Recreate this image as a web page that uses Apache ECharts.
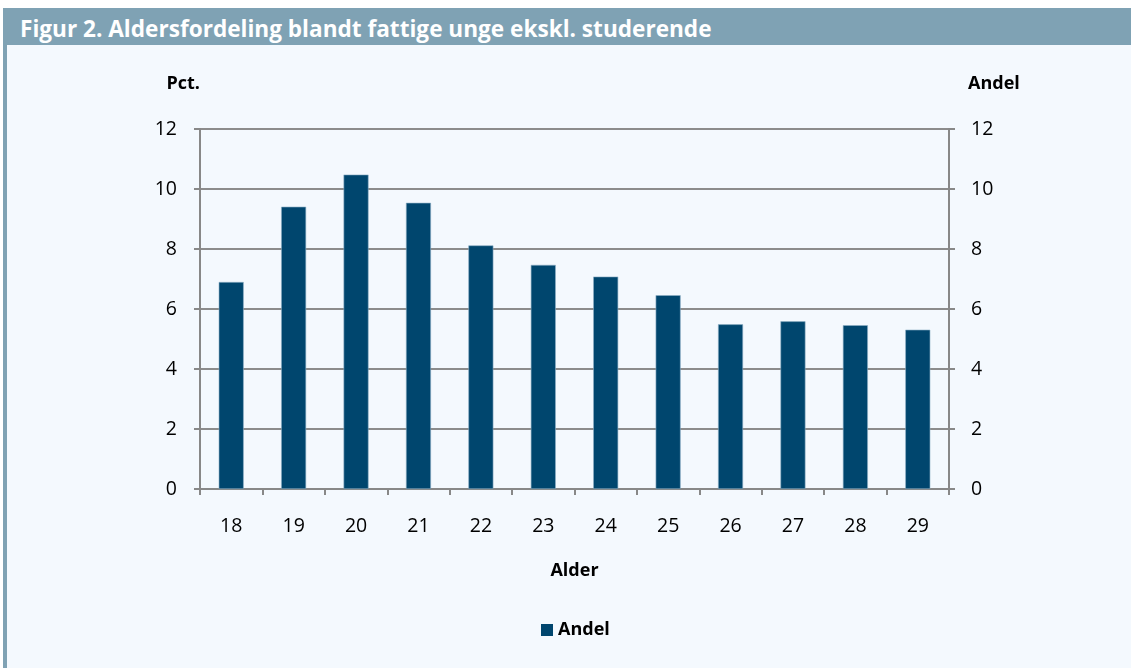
<!DOCTYPE html>
<html>
<head>
<meta charset="utf-8">
<script src="https://cdn.jsdelivr.net/npm/echarts@6/dist/echarts.min.js"></script>
<style>
html, body { margin: 0; padding: 0; background: #ffffff; }
#frame {
    position: absolute; left: 3px; top: 8px; width: 1128px; height: 660px;
    background: #f4f9fe;
}
#titlebar {
    height: 37px; background: #7fa2b4; color: #ffffff;
    font-family: "Open Sans", "Noto Sans", sans-serif; font-weight: bold;
    font-size: 22.6px; line-height: 41px; padding-left: 17px; white-space: nowrap;
}
#leftstrip {
    position: absolute; left: 0; top: 37px; width: 4px; bottom: 0; background: #7fa2b4;
}
#chart { position: absolute; left: 0; top: 0; width: 1131px; height: 668px; }
</style>
</head>
<body>
<div id="frame">
    <div id="titlebar">Figur 2. Aldersfordeling blandt fattige unge ekskl. studerende</div>
    <div id="leftstrip"></div>
</div>
<div id="chart"></div>
<script>
// alder og andel (pct.)
var categories = ['18', '19', '20', '21', '22', '23', '24', '25', '26', '27', '28', '29'];
var andel = [6.9, 9.41, 10.48, 9.54, 8.12, 7.47, 7.08, 6.46, 5.49, 5.59, 5.46, 5.31];
var seriesName = 'Andel';

var font = '"Open Sans", "Noto Sans", sans-serif';
var axisGray = '#888888';
var barColor = '#00466e';

var myChart = echarts.init(document.getElementById('chart'));
myChart.setOption({
    backgroundColor: 'transparent',
    textStyle: { fontFamily: font },
    animation: false,
    grid: { left: 200, right: 182, top: 129, bottom: 179 },
    legend: {
        data: [seriesName],
        left: 536, top: 616,
        icon: 'rect', itemWidth: 12, itemHeight: 12, itemGap: 5,
        itemStyle: { borderWidth: 0 },
        textStyle: { fontFamily: font, fontSize: 18, fontWeight: 'bold', color: '#000' }
    },
    xAxis: {
        type: 'category',
        data: categories,
        name: 'Alder',
        nameLocation: 'middle',
        nameGap: 73,
        nameTextStyle: { fontFamily: font, fontSize: 18, fontWeight: 'bold', color: '#000', verticalAlign: 'top' },
        axisLine: { lineStyle: { color: axisGray, width: 2 } },
        axisTick: { show: true, length: 6, lineStyle: { color: axisGray, width: 2 } },
        axisLabel: { fontFamily: font, fontSize: 19.5, color: '#000', margin: 27 }
    },
    yAxis: [{
        type: 'value', min: 0, max: 12, interval: 2,
        position: 'left',
        name: 'Pct.',
        nameGap: 46,
        nameTextStyle: { fontFamily: font, fontSize: 18, fontWeight: 'bold', color: '#000', align: 'right', verticalAlign: 'bottom', padding: [0, 0, -10, 0] },
        axisLine: { show: true, lineStyle: { color: axisGray, width: 2 } },
        axisTick: { show: true, length: 6, lineStyle: { color: axisGray, width: 2 } },
        axisLabel: { fontFamily: font, fontSize: 19.5, color: '#000', margin: 23 },
        splitLine: { show: true, lineStyle: { color: '#8c8c8c', width: 2 } }
    }, {
        type: 'value', min: 0, max: 12, interval: 2,
        position: 'right',
        name: 'Andel',
        nameGap: 46,
        nameTextStyle: { fontFamily: font, fontSize: 18, fontWeight: 'bold', color: '#000', align: 'left', verticalAlign: 'bottom', padding: [0, 0, -10, 19] },
        axisLine: { show: true, lineStyle: { color: axisGray, width: 2 } },
        axisTick: { show: true, length: 6, lineStyle: { color: axisGray, width: 2 } },
        axisLabel: { fontFamily: font, fontSize: 19.5, color: '#000', margin: 22 },
        splitLine: { show: false }
    }],
    series: [{
        name: seriesName,
        type: 'bar',
        yAxisIndex: 0,
        barWidth: 25,
        itemStyle: { color: barColor, borderColor: '#8fb0c6', borderWidth: 0.6 },
        data: andel
    }]
});
</script>
</body>
</html>
